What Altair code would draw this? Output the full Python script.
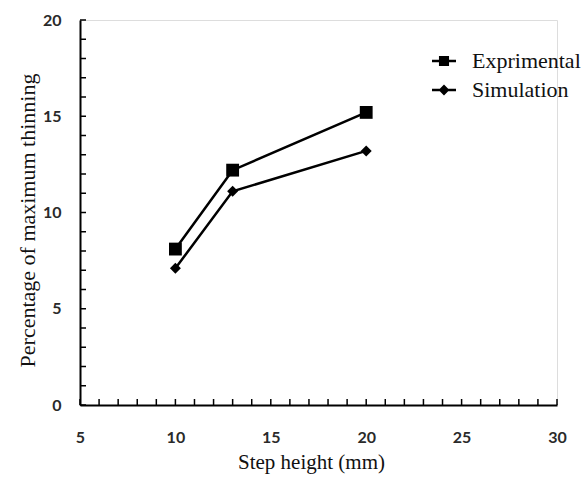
import altair as alt
import pandas as pd

# Data
step_height = [10, 13, 20]
experimental = [8.1, 12.2, 15.2]
simulation = [7.1, 11.1, 13.2]
series_names = ["Exprimental", "Simulation"]
x_ticks = [5, 10, 15, 20, 25, 30]
y_ticks = [0, 5, 10, 15, 20]
x_minor = list(range(5, 31))
y_minor = list(range(0, 21))

rows = []
for s, vals in zip(series_names, [experimental, simulation]):
    for x, y in zip(step_height, vals):
        rows.append({"series": s, "x": x, "y": y})
df = pd.DataFrame(rows)

W, H = 477, 385
xs = alt.Scale(domain=[5, 30], nice=False, zero=False)
ys = alt.Scale(domain=[0, 20], nice=False)

label_font = "Lato"
title_font = "Liberation Serif"

x_enc = alt.X("x:Q", scale=xs, axis=alt.Axis(
    values=x_ticks, title="Step height (mm)", tickSize=0, labelPadding=24,
    labelFont=label_font, labelFontWeight="bold", labelFontSize=16, labelColor="#2a2a2a",
    titleFont=title_font, titleFontWeight="normal", titleFontSize=21, titleColor="#111",
    titleX=231, titleY=57, titleBaseline="middle", titleAlign="center",
    domainColor="black", domainWidth=2, grid=False, labelFlush=False))
y_enc = alt.Y("y:Q", scale=ys, axis=alt.Axis(
    values=y_ticks, title="Percentage of maximum thinning", tickSize=0, labelPadding=19,
    labelFont=label_font, labelFontWeight="bold", labelFontSize=16, labelColor="#2a2a2a",
    titleFont=title_font, titleFontWeight="normal", titleFontSize=22, titleColor="#111",
    titleX=-53, titleY=200, titleAngle=-90, titleBaseline="middle", titleAlign="center",
    domainColor="black", domainWidth=2, grid=False, labelFlush=False))

base = alt.Chart(df)

lines = base.mark_line(color="black", strokeWidth=2.5).encode(x=x_enc, y=y_enc, detail="series:N")

points = base.mark_point(filled=True, color="black", opacity=1).encode(
    x=alt.X("x:Q", scale=xs),
    y=alt.Y("y:Q", scale=ys),
    shape=alt.Shape("series:N", scale=alt.Scale(domain=series_names, range=["square", "diamond"]), legend=None),
    size=alt.Size("series:N", scale=alt.Scale(domain=series_names, range=[165, 120]), legend=None),
)

# legend glyphs: a short horizontal bar with the series marker on it
leg_paths = [
    "M-1,-0.1H1V0.1H-1ZM-0.42,-0.42H0.42V0.42H-0.42Z",
    "M-1,-0.1H1V0.1H-1ZM0,-0.45L0.45,0L0,0.45L-0.45,0Z",
]
legend_layer = base.mark_point(filled=True, color="black", opacity=1, size=576).transform_filter(
    "datum.y > 1000"
).encode(
    x=alt.X("x:Q", scale=xs),
    y=alt.Y("y:Q", scale=ys),
    shape=alt.Shape("series:N", scale=alt.Scale(domain=series_names, range=leg_paths),
                    legend=alt.Legend(title=None, orient="none", legendX=351, legendY=28,
                                      labelFont=title_font, labelFontSize=22, labelColor="#111",
                                      labelOffset=15, rowPadding=5, symbolSize=576,
                                      symbolFillColor="black", symbolOpacity=1)),
)

xt = alt.Chart(pd.DataFrame({"t": x_minor})).mark_rule(color="black", strokeWidth=1.5).encode(
    x=alt.X("t:Q", scale=xs), y=alt.value(H), y2=alt.value(H - 6))
yt = alt.Chart(pd.DataFrame({"t": y_minor})).mark_rule(color="black", strokeWidth=1.5).encode(
    y=alt.Y("t:Q", scale=ys), x=alt.value(0), x2=alt.value(6))

chart = alt.layer(lines, xt, yt, points, legend_layer).resolve_scale(
    shape="independent", size="independent"
).properties(
    width=W, height=H, autosize="none",
    padding={"left": 80, "top": 20, "right": 30, "bottom": 72},
).configure_view(stroke=None).configure(background="white")

chart.save("out.html", embed_options={"renderer": "svg", "actions": False})
